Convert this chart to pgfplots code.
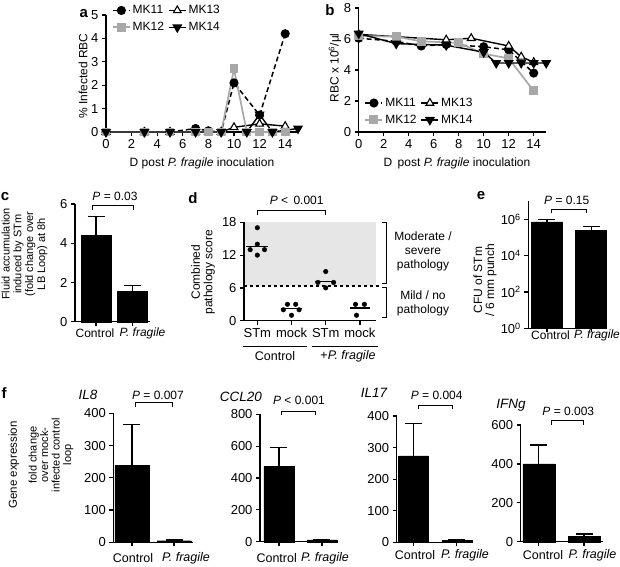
\documentclass[border=0pt]{standalone}
\usepackage{fontspec}
\setmainfont{Liberation Sans}
\usepackage{pgfplots}
\pgfplotsset{compat=1.18}
\definecolor{mkgray}{RGB}{168,168,168}
\definecolor{shade}{RGB}{230,230,230}
\newcommand{\fs}[1]{\fontsize{#1}{#1}\selectfont}
\pgfplotsset{
  gp/.style={scale only axis, anchor=south west, axis lines*=left,
    axis line style={black, line width=1.2pt},
    tick align=outside,
    major tick style={black, line width=1.2pt}, major tick length=4pt,
    minor tick num=0,
    /pgf/number format/assume math mode=true,
    ticklabel style={font=\fs{13}},
    clip=false},
  lg/.style={legend style={draw=none, fill=none, font=\fs{12}, legend columns=2,
     /tikz/every even column/.append style={column sep=2pt}, row sep=3pt, inner sep=0pt},
     legend cell align=left},
  bars/.style={ybar, bar width=#1, fill=black, draw=black, bar shift=0pt,
    error bars/.cd, y dir=plus, y explicit,
    error bar style={line width=1.2pt, black},
    error mark options={rotate=90, mark size=8.5pt, line width=1.2pt, black}},
  m11/.style={black, dash pattern=on 5pt off 3pt, line width=1.5pt, mark=*, mark size=3.8pt, mark options={solid, fill=black}},
  m12/.style={mkgray, line width=1.7pt, mark=square*, mark size=3.6pt, mark options={solid, fill=mkgray}},
  m13/.style={black, line width=1.4pt, mark=triangle*, mark size=4.5pt, mark options={solid, fill=white, line width=1.1pt}},
  m14/.style={black, line width=1.4pt, mark=triangle*, mark size=4.5pt, mark options={solid, fill=black, rotate=180}},
  dots/.style={only marks, mark=*, mark size=2.3pt, black},
  mline/.style={black, line width=1.3pt},
}
\begin{document}
\begin{tikzpicture}
\useasboundingbox (0,0) rectangle (620pt,-566pt);

% ---------------- panel a ----------------
\begin{axis}[gp, lg, at={(106pt,-132pt)}, width=192pt, height=117pt,
  xmin=0, xmax=15, ymin=0, ymax=5, xtick={0,2,...,14}, ytick={0,1,...,5},
  legend style={at={(0.03,1.1)}, anchor=north west}]
\addplot[m11] coordinates {(0,0)(3,0)(5,0)(7,0.15)(8,0.05)(9,0)(10,2.1)(12,0.72)(14,4.2)};
\addlegendentry{MK11}
\addplot[m13] coordinates {(0,0)(3,0)(5,0)(7,0)(8,0)(9,0)(10,0.2)(12,0.35)(14,0.25)};
\addlegendentry{MK13}
\addplot[m12] coordinates {(0,0)(3,0)(5,0)(7,0)(8,0)(9,0)(10,2.7)(11,0)(12,0)(13,0)(14,0)};
\addlegendentry{MK12}
\addplot[m14] coordinates {(0,0)(3,0)(5,0)(7,0)(9,0)(11,0)(12,0.75)(13,0)(15,0.15)};
\addlegendentry{MK14}
\end{axis}

% ---------------- panel b ----------------
\begin{axis}[gp, lg, at={(358.7pt,-132pt)}, width=187.5pt, height=124pt,
  xmin=0, xmax=15, ymin=0, ymax=8, xtick={0,2,...,14}, ytick={0,2,...,8},
  legend style={at={(0.03,0.04)}, anchor=south west}]
\addplot[m11] coordinates {(0,6.05)(3,5.85)(5,5.55)(7,5.65)(10,5.5)(12,5.3)(14,3.8)};
\addlegendentry{MK11}
\addplot[m13] coordinates {(0,6.3)(7,5.95)(9,6.05)(12,5.55)(13,4.85)(14,4.5)};
\addlegendentry{MK13}
\addplot[m12] coordinates {(0,6.2)(3,6.15)(5,5.85)(8,5.75)(10,5.05)(12,4.75)(14,2.65)};
\addlegendentry{MK12}
\addplot[m14] coordinates {(0,6.35)(3,5.7)(7,5.6)(10,5.15)(11,4.45)(12,4.45)(13,4.45)(14,4.45)(15,4.45)};
\addlegendentry{MK14}
\end{axis}

% ---------------- panel c ----------------
\begin{axis}[gp, at={(75pt,-321.7pt)}, width=75pt, height=117.7pt,
  xmin=0.42, xmax=2.49, ymin=0, ymax=6, xtick={1,2}, xticklabels={,}, ytick={0,2,4,6}]
\addplot[bars=30pt] coordinates {(1,4.42) +- (0,0.95) (2,1.55) +- (0,0.28)};
\end{axis}

% ---------------- panel d ----------------
\begin{axis}[gp, axis on top, at={(244pt,-320.7pt)}, width=132pt, height=98.4pt,
  xmin=0.61, xmax=4.47, ymin=0, ymax=18, xtick={1,2,3,4},
  xticklabels={STm,mock,STm,mock}, ytick={0,6,12,18}]
\addplot[fill=shade, draw=none] coordinates {(0.61,6.35)(4.47,6.35)(4.47,18)(0.61,18)} -- cycle;
\addplot[black, dashed, line width=1.1pt] coordinates {(0.61,6.35)(4.55,6.35)};
\addplot[dots] coordinates {(1,17)(1,14)(0.79,13)(1.21,13)(1,12)};
\addplot[dots] coordinates {(1.88,3)(2.12,3)(1.76,2)(2.22,2)(2,1)};
\addplot[dots] coordinates {(3,9)(2.77,7)(3.23,7)(3,6)};
\addplot[dots] coordinates {(3.87,3)(4.13,3)(3.9,1)};
\addplot[mline] coordinates {(0.68,13.6)(1.32,13.6)};
\addplot[mline] coordinates {(1.7,2.2)(2.3,2.2)};
\addplot[mline] coordinates {(2.7,7.2)(3.3,7.2)};
\addplot[mline] coordinates {(3.72,2.3)(4.28,2.3)};
\end{axis}

% ---------------- panel e ----------------
\begin{axis}[gp, at={(528.3pt,-328.3pt)}, width=77.5pt, height=127.4pt,
  xmin=0.58, xmax=2.33, ymode=log, ymin=1, ymax=1e7, yminorticks=false,
  xtick={1,2}, xticklabels={,},
  ytick={1,100,10000,1000000},
  yticklabels={10\textsuperscript{0},10\textsuperscript{2},10\textsuperscript{4},10\textsuperscript{6}}]
\addplot[bars=31pt] coordinates {(1,7e5) +- (0,2.5e5) (2,2.5e5) +- (0,1.3e5)};
\end{axis}

% ---------------- panel f ----------------
\begin{axis}[gp, at={(113.3pt,-542.3pt)}, width=79.6pt, height=129pt,
  xmin=0.555, xmax=2.45, ymin=0, ymax=400, xtick={1,2}, xticklabels={,}, ytick={0,100,...,400}]
\addplot[bars=34pt] coordinates {(1,238) +- (0,128) (2,5) +- (0,2)};
\end{axis}
\begin{axis}[gp, at={(260pt,-541.7pt)}, width=77.4pt, height=127.4pt,
  xmin=0.56, xmax=2.36, ymin=0, ymax=800, xtick={1,2}, xticklabels={,}, ytick={0,200,...,800}]
\addplot[bars=30pt] coordinates {(1,475) +- (0,115) (2,12) +- (0,3)};
\end{axis}
\begin{axis}[gp, at={(396.7pt,-542.3pt)}, width=75.3pt, height=126.3pt,
  xmin=0.61, xmax=2.35, ymin=0, ymax=400, xtick={1,2}, xticklabels={,}, ytick={0,100,...,400}]
\addplot[bars=30pt] coordinates {(1,274) +- (0,103) (2,7) +- (0,2)};
\end{axis}
\begin{axis}[gp, at={(520.7pt,-541.7pt)}, width=82.3pt, height=116.7pt,
  xmin=0.6, xmax=2.42, ymin=0, ymax=600, xtick={1,2}, xticklabels={,}, ytick={0,200,...,600}]
\addplot[bars=32pt] coordinates {(1,400) +- (0,97) (2,26) +- (0,14)};
\end{axis}

% ---------------- texts ----------------
\begin{scope}[every node/.style={inner sep=0pt}]
% panel letters
\node[font=\bfseries\fs{15}] at (83.7pt,-14pt) {a};
\node[font=\bfseries\fs{15}] at (330pt,-10pt) {b};
\node[font=\bfseries\fs{15}] at (5pt,-197pt) {c};
\node[font=\bfseries\fs{15}] at (193pt,-198pt) {d};
\node[font=\bfseries\fs{15}] at (481pt,-196pt) {e};
\node[font=\bfseries\fs{15}] at (4pt,-393pt) {f};
% a, b labels
\node[rotate=90, font=\fs{12}] at (83pt,-76pt) {\% Infected RBC};
\node[font=\fs{12}] at (202pt,-163pt) {D post \textit{P. fragile} inoculation};
\node[rotate=90, font=\fs{12}] at (335pt,-68pt) {RBC x 10\textsuperscript{6}/µl};
\node[font=\fs{12}] at (457pt,-163pt) {D\, post \textit{P. fragile} inoculation};
% c
\node[rotate=90, align=center, font=\fontsize{11}{11.8}\selectfont] at (24.5pt,-254pt) {Fluid accumulation\\induced by STm\\(fold change over\\LB Loop) at 8h};
\node[font=\fs{12}] at (95pt,-333.5pt) {Control};
\node[font=\fs{12}] at (142.5pt,-333.5pt) {\textit{P. fragile}};
\node[font=\fs{12}] at (115pt,-196.7pt) {\textit{P} = 0.03};
\draw[line width=0.9pt] (92pt,-209.5pt) -- (92pt,-205pt) -- (133pt,-205pt) -- (133pt,-209.5pt);
% d
\node[rotate=90, align=center, font=\fontsize{12}{12.5}\selectfont] at (203pt,-272pt) {Combined\\pathology score};
\node[font=\fs{12}] at (296.7pt,-200pt) {\textit{P} <\, 0.001};
\draw[line width=0.9pt] (257.3pt,-215pt) -- (257.3pt,-210pt) -- (325.7pt,-210pt) -- (325.7pt,-215pt);
\draw[line width=0.9pt] (243pt,-346.7pt) -- (307pt,-346.7pt);
\draw[line width=0.9pt] (311.7pt,-346.7pt) -- (378pt,-346.7pt);
\node[font=\fs{12.5}] at (275pt,-356pt) {Control};
\node[font=\fs{12.5}] at (348pt,-356pt) {+\textit{P. fragile}};
\draw[line width=1pt] (381.7pt,-222.3pt) -- (386.7pt,-222.3pt) -- (386.7pt,-283.3pt) -- (381.7pt,-283.3pt);
\draw[line width=1pt] (381.7pt,-287.3pt) -- (386.7pt,-287.3pt) -- (386.7pt,-317.7pt) -- (381.7pt,-317.7pt);
\node[align=center, font=\fontsize{12}{14}\selectfont] at (423pt,-251pt) {Moderate /\\severe\\pathology};
\node[align=center, font=\fontsize{12}{14}\selectfont] at (423pt,-303pt) {Mild / no\\pathology};
% e
\node[rotate=90, align=center, font=\fontsize{12}{12}\selectfont] at (485pt,-280pt) {CFU of STm\\/ 6 mm punch};
\node[font=\fs{12}] at (550.5pt,-335pt) {Control};
\node[font=\fs{12}] at (597pt,-335pt) {\textit{P. fragile}};
\node[font=\fs{12}] at (566.7pt,-200pt) {\textit{P} = 0.15};
\draw[line width=0.9pt] (551pt,-213.3pt) -- (551pt,-209.3pt) -- (586pt,-209.3pt) -- (586pt,-213.3pt);
% f
\node[rotate=90, font=\fs{11.5}] at (14pt,-465pt) {Gene expression};
\node[rotate=90, align=center, font=\fontsize{11}{11.5}\selectfont] at (51pt,-455pt) {fold change\\over mock-\\infected control\\loop};
\node[font=\itshape\fs{13.5}] at (88pt,-395pt) {IL8};
\node[font=\itshape\fs{13.5}] at (241pt,-397pt) {CCL20};
\node[font=\itshape\fs{13.5}] at (374pt,-393pt) {IL17};
\node[font=\itshape\fs{13.5}] at (511pt,-405pt) {IFNg};
\node[font=\fs{12}] at (158pt,-395pt) {\textit{P} = 0.007};
\draw[line width=0.9pt] (135pt,-406.7pt) -- (135pt,-402.7pt) -- (172.7pt,-402.7pt) -- (172.7pt,-406.7pt);
\node[font=\fs{12}] at (299pt,-400pt) {\textit{P} < 0.001};
\draw[line width=0.9pt] (281.7pt,-415pt) -- (281.7pt,-411pt) -- (315.7pt,-411pt) -- (315.7pt,-415pt);
\node[font=\fs{12}] at (436.7pt,-395pt) {\textit{P} = 0.004};
\draw[line width=0.9pt] (418.3pt,-409.3pt) -- (418.3pt,-405pt) -- (452.3pt,-405pt) -- (452.3pt,-409.3pt);
\node[font=\fs{12}] at (568.3pt,-411.7pt) {\textit{P} = 0.003};
\draw[line width=0.9pt] (551.7pt,-425pt) -- (551.7pt,-420.7pt) -- (583.3pt,-420.7pt) -- (583.3pt,-425pt);
\node[font=\fs{12.5}] at (133pt,-558.3pt) {Control};
\node[font=\fs{12.5}] at (186pt,-558.3pt) {\textit{P. fragile}};
\node[font=\fs{12.5}] at (276.7pt,-558.3pt) {Control};
\node[font=\fs{12.5}] at (325pt,-558.3pt) {\textit{P. fragile}};
\node[font=\fs{12.5}] at (415pt,-555pt) {Control};
\node[font=\fs{12.5}] at (465pt,-555pt) {\textit{P. fragile}};
\node[font=\fs{12.5}] at (543pt,-555pt) {Control};
\node[font=\fs{12.5}] at (592.5pt,-555pt) {\textit{P. fragile}};
\end{scope}
\end{tikzpicture}
\end{document}
